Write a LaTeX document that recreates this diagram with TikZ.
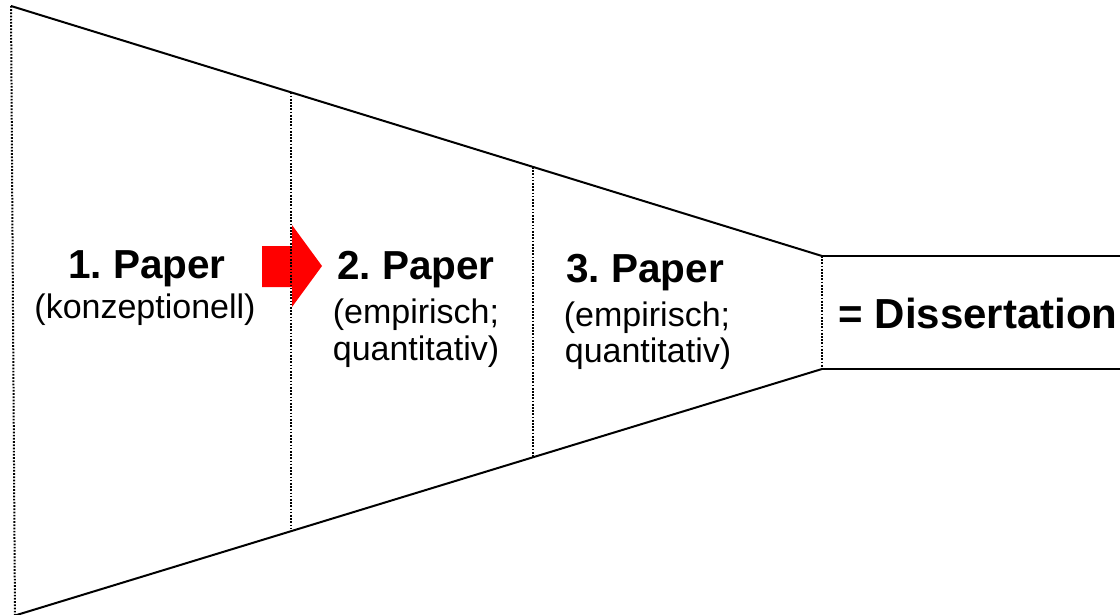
\documentclass[tikz,border=0pt]{standalone}
\usepackage{fontspec}
\setmainfont{Liberation Sans}
\frenchspacing
\begin{document}
\begin{tikzpicture}[x=1pt,y=-1pt,
  solidline/.style={line width=2pt,black},
  dotline/.style={line width=2pt,black,dash pattern=on 1.7pt off 1.5pt},
  titletext/.style={inner sep=0pt,anchor=base,font=\fontsize{40.5}{40.5}\selectfont\bfseries},
  disstext/.style={inner sep=0pt,anchor=base,font=\fontsize{42}{42}\selectfont\bfseries},
  subtext/.style={inner sep=0pt,anchor=base,font=\fontsize{34}{34}\selectfont},
  redarrow/.style={fill=red,draw=none}]
\useasboundingbox (0,0) rectangle (1120,615);
% key points
\coordinate (tl) at (11,6);
\coordinate (bl) at (15,615.5);
\coordinate (tr) at (822,256);
\coordinate (br) at (822,369);
\coordinate (t1) at (291,92.5);
\coordinate (b1) at (291,531.5);
\coordinate (t2) at (533,167);
\coordinate (b2) at (533,457.5);
\coordinate (er) at (1120,256);
\coordinate (ebr) at (1120,369);
% red arrow
\fill[redarrow] (262,246) -- (292,246) -- (292,225) -- (322,266) -- (292,307) -- (292,287) -- (262,287) -- cycle;
% funnel
\draw[solidline] (tl) -- (tr);
\draw[solidline] (bl) -- (br);
\draw[dotline] (tl) -- (bl);
\draw[dotline] (t1) -- (b1);
\draw[dotline] (t2) -- (b2);
\draw[dotline] (tr) -- (br);
% box to the right
\draw[solidline] (tr) -- (er);
\draw[solidline] (br) -- (ebr);
% texts
\node[titletext] (p1) at (147,278) {1. Paper};
\node[subtext] (p1s) at (145,318) {(konzeptionell)};
\node[titletext] (p2) at (416,279) {2. Paper};
\node[subtext] (p2s) at (416,323) {(empirisch;};
\node[subtext] (p2t) at (416,360) {quantitativ)};
\node[titletext] (p3) at (645,282) {3. Paper};
\node[subtext] (p3s) at (647,326) {(empirisch;};
\node[subtext] (p3t) at (648,362) {quantitativ)};
\node[disstext] (diss) at (978,328) {= Dissertation};
\end{tikzpicture}
\end{document}
